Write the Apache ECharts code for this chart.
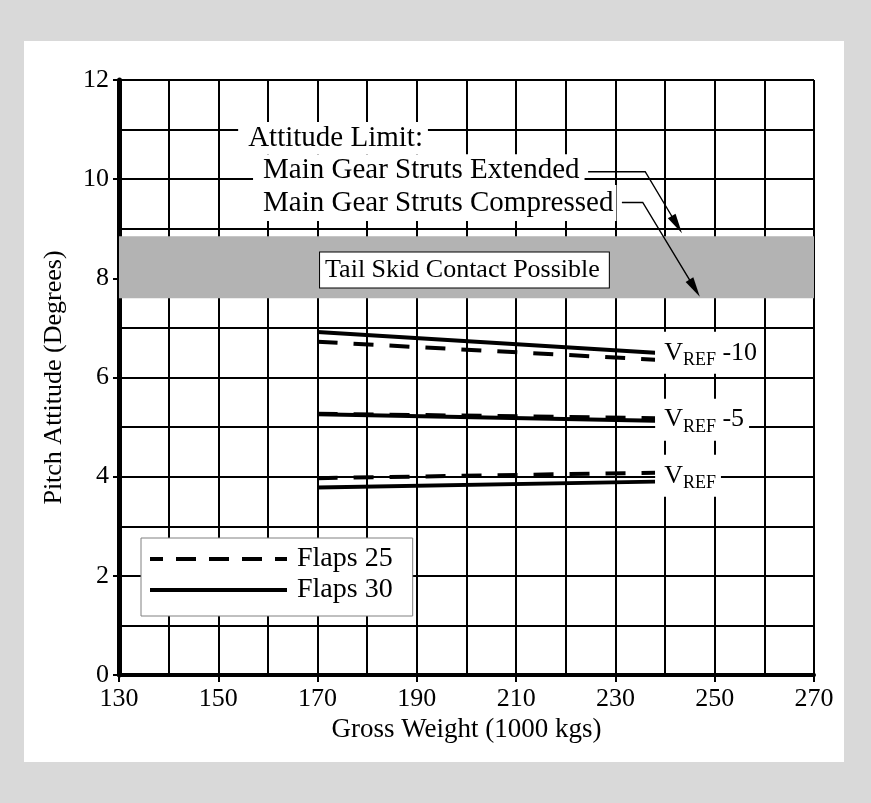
<!DOCTYPE html>
<html>
<head>
<meta charset="utf-8">
<script src="https://cdn.jsdelivr.net/npm/echarts@6/dist/echarts.min.js"></script>
<style>
html,body{margin:0;padding:0;background:#d9d9d9;}
#c{width:871px;height:803px;}
</style>
</head>
<body>
<div id="c"></div>
<script>
// ---- data ----
const weights = [170, 238];
const flaps25Vref10 = [6.72, 6.36];
const flaps30Vref10 = [6.92, 6.50];
const flaps25Vref5 = [5.27, 5.18];
const flaps30Vref5 = [5.26, 5.13];
const flaps25Vref = [3.97, 4.08];
const flaps30Vref = [3.78, 3.90];
const xTicks = [130, 150, 170, 190, 210, 230, 250, 270];
const yTicks = [0, 2, 4, 6, 8, 10, 12];
const tailSkidBand = [7.6, 8.85];
const limitExtended = 8.91;
const limitCompressed = 7.63;

const FONT = "'Liberation Serif','Times New Roman',serif";
const DASH = [20, 16];

function pairs(xs, ys) { return xs.map((x, i) => [x, ys[i]]); }

function endLabel(text, dy) {
  return {
    show: true,
    formatter: text,
    distance: 0,
    offset: [0, dy || 0],
    color: '#000',
    backgroundColor: '#fff',
    padding: [4, 5, 4, 9],
    rich: {
      v: { fontFamily: FONT, fontSize: 26, lineHeight: 34, color: '#000' },
      s: { fontFamily: FONT, fontSize: 18, lineHeight: 18, verticalAlign: 'bottom', color: '#000' },
      n: { fontFamily: FONT, fontSize: 26, lineHeight: 34, color: '#000' }
    }
  };
}

function lineSeries(name, data, dashed, labelText, dy) {
  const s = {
    type: 'line', name: name, data: data,
    symbol: 'none', silent: true, z: 3,
    lineStyle: { color: '#000', width: 4, type: dashed ? DASH : 'solid', cap: 'butt' },
    itemStyle: { color: '#000' }
  };
  if (labelText) s.endLabel = endLabel(labelText, dy);
  return s;
}

const chart = echarts.init(document.getElementById('c'), null, { renderer: 'canvas' });

const tickText = { fontFamily: FONT, fontSize: 26, color: '#000' };

chart.setOption({
  animation: false,
  backgroundColor: '#d9d9d9',
  grid: { left: 119, right: 57, top: 80, bottom: 128, containLabel: false },
  xAxis: {
    type: 'value',
    min: xTicks[0], max: xTicks[xTicks.length - 1], interval: xTicks[1] - xTicks[0],
    name: 'Gross Weight (1000 kgs)', nameLocation: 'middle', nameGap: 36,
    nameTextStyle: { fontFamily: FONT, fontSize: 27, color: '#000' },
    axisLine: { show: true, onZero: false, lineStyle: { color: '#000', width: 4 } },
    axisTick: { show: true, length: 7, lineStyle: { color: '#000', width: 2 } },
    axisLabel: Object.assign({ margin: 11 }, tickText),
    splitLine: { show: true, lineStyle: { color: '#000', width: 2 } },
    minorTick: { show: false, splitNumber: 2 },
    minorSplitLine: { show: true, lineStyle: { color: '#000', width: 2 } }
  },
  yAxis: {
    type: 'value',
    min: yTicks[0], max: yTicks[yTicks.length - 1], interval: yTicks[1] - yTicks[0],
    name: 'Pitch Attitude (Degrees)', nameLocation: 'middle', nameGap: 52,
    nameTextStyle: { fontFamily: FONT, fontSize: 26, color: '#000' },
    axisLine: { show: true, onZero: false, lineStyle: { color: '#000', width: 5 } },
    axisTick: { show: true, length: 6, lineStyle: { color: '#000', width: 2 } },
    axisLabel: Object.assign({ margin: 10 }, tickText),
    splitLine: { show: true, lineStyle: { color: '#000', width: 2 } },
    minorTick: { show: false, splitNumber: 2 },
    minorSplitLine: { show: true, lineStyle: { color: '#000', width: 2 } }
  },
  legend: {
    data: [
      { name: 'Flaps 25', lineStyle: { type: [20, 13], dashOffset: 7 } },
      { name: 'Flaps 30' }
    ],
    orient: 'vertical', left: 141, top: 538,
    backgroundColor: '#fff', borderColor: '#808080', borderWidth: 1,
    padding: [6, 20, 11, 7], itemGap: 1,
    itemWidth: 137, itemHeight: 14,
    itemStyle: { opacity: 0 },
    lineStyle: { width: 4 },
    textStyle: { fontFamily: FONT, fontSize: 28, lineHeight: 30, color: '#000', padding: [0, 0, 0, 5] },
    selectedMode: false
  },
  series: [
    {
      type: 'line', name: 'band', data: [], z: -1, silent: true,
      markArea: {
        silent: true,
        itemStyle: { color: '#b3b3b3' },
        data: [[{ yAxis: tailSkidBand[0] }, { yAxis: tailSkidBand[1] }]]
      }
    },
    lineSeries('Flaps 25', pairs(weights, flaps25Vref10), true),
    lineSeries('Flaps 30', pairs(weights, flaps30Vref10), false, '{v|V}{s|REF}{n| -10}'),
    lineSeries('Flaps 25', pairs(weights, flaps25Vref5), true),
    lineSeries('Flaps 30', pairs(weights, flaps30Vref5), false, '{v|V}{s|REF}{n| -5}', -1),
    lineSeries('Flaps 25', pairs(weights, flaps25Vref), true, '{v|V}{s|REF}', 3),
    lineSeries('Flaps 30', pairs(weights, flaps30Vref), false)
  ]
});

// ---- annotations (placed in data coordinates) ----
const P = (x, y) => chart.convertToPixel({ gridIndex: 0 }, [x, y]);
const annoFont = '29px ' + FONT;

function textBox(x, y, text, opts) {
  const p = P(x, y);
  return {
    type: 'text', z: 50, silent: true,
    style: Object.assign({
      x: p[0], y: p[1], text: text, font: annoFont, fill: '#000',
      align: 'left', verticalAlign: 'middle',
      backgroundColor: '#fff', padding: [0, 5, 0, 10], lineHeight: 32
    }, opts || {})
  };
}

function leader(pts) {
  const px = pts.map(q => P(q[0], q[1]));
  const tip = px[px.length - 1], prev = px[px.length - 2];
  const dx = tip[0] - prev[0], dy = tip[1] - prev[1];
  const len = Math.sqrt(dx * dx + dy * dy);
  const ux = dx / len, uy = dy / len;
  const L = 20, W = 4.5;
  const bx = tip[0] - ux * L, by = tip[1] - uy * L;
  return [
    { type: 'polyline', z: 51, silent: true, shape: { points: px.slice(0, -1).concat([[bx + ux * 2, by + uy * 2]]) },
      style: { stroke: '#000', lineWidth: 1.4, fill: null } },
    { type: 'polygon', z: 51, silent: true,
      shape: { points: [tip, [bx - uy * W, by + ux * W], [bx + uy * W, by - ux * W]] },
      style: { fill: '#000' } }
  ];
}

const graphics = [
  { type: 'rect', z: -100, silent: true, shape: { x: 24, y: 41, width: 820, height: 721 }, style: { fill: '#fff' } },
  textBox(154, 10.83, 'Attitude Limit:'),
  textBox(157, 10.18, 'Main Gear Struts Extended'),
  textBox(157, 9.52, 'Main Gear Struts Compressed', { padding: [2, 3, 2, 10] }),
  textBox(170.5, 8.17, 'Tail Skid Contact Possible', {
    font: '26px ' + FONT, borderColor: '#000', borderWidth: 1, padding: [3, 9, 2, 5], lineHeight: 30
  })
].concat(
  leader([[224.5, 10.15], [236.0, 10.15], [243.4, limitExtended]]),
  leader([[231.3, 9.53], [235.5, 9.53], [247.0, limitCompressed]])
);

chart.setOption({ graphic: graphics });
</script>
</body>
</html>
